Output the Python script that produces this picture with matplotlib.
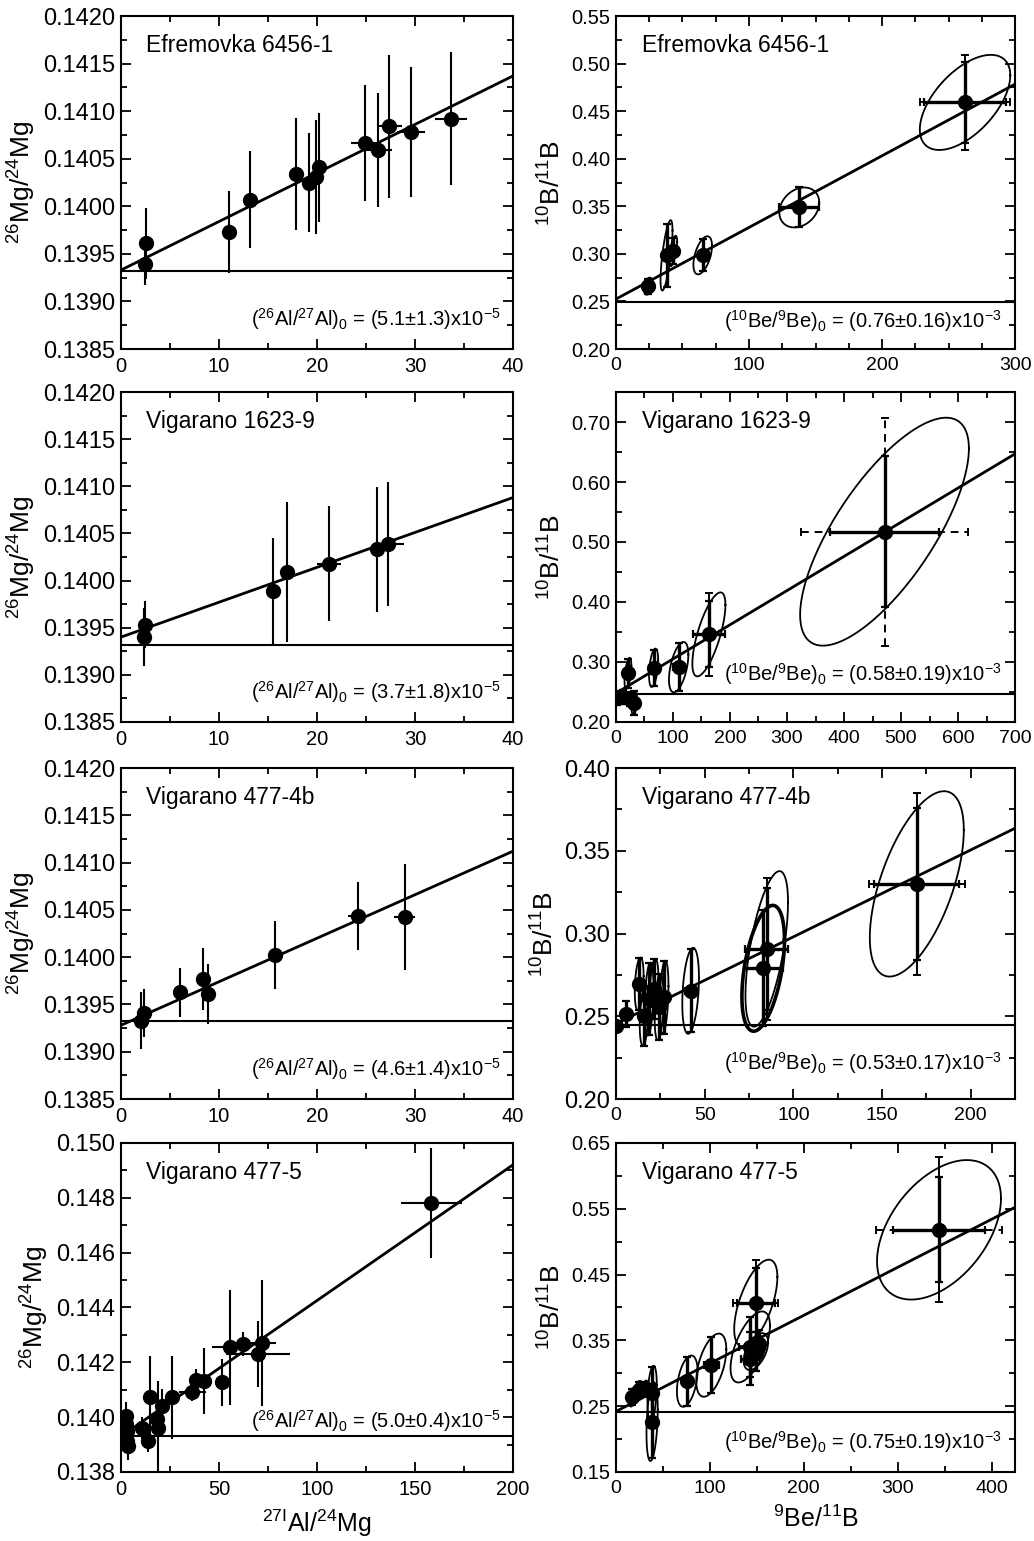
import matplotlib
matplotlib.use("Agg")
import matplotlib.pyplot as plt
import numpy as np
from matplotlib.ticker import MultipleLocator, FormatStrFormatter

plt.rcParams['font.family'] = ['Liberation Sans', 'DejaVu Sans']
plt.rcParams['mathtext.fontset'] = 'custom'
plt.rcParams['mathtext.rm'] = 'Liberation Sans'
plt.rcParams['mathtext.default'] = 'regular'

# ---- Al-Mg data (left column) ----
al1_x = [2.6, 2.5, 11.05, 13.2, 17.85, 19.2, 19.95, 20.2, 24.9, 26.25, 27.4, 29.6, 33.7]
al1_y = [0.13961, 0.13939, 0.13973, 0.14007, 0.14034, 0.14025, 0.14031, 0.14041,
         0.14067, 0.14059, 0.14084, 0.14078, 0.14092]
al1_xerr = [0.1, 0.1, 0.2, 0.2, 0.5, 0.5, 0.6, 0.6, 1.4, 1.4, 1.3, 1.4, 1.6]
al1_yerr = [0.00037, 0.00022, 0.00043, 0.00051, 0.00059, 0.00052, 0.0006, 0.00057,
            0.00061, 0.0006, 0.00075, 0.00068, 0.0007]

al2_x = [2.35, 2.5, 15.55, 16.95, 21.25, 26.1, 27.3]
al2_y = [0.13940, 0.13953, 0.13989, 0.14009, 0.14018, 0.14033, 0.14039]
al2_xerr = [0.1, 0.1, 0.2, 0.2, 1.2, 1.0, 1.6]
al2_yerr = [0.00031, 0.00025, 0.00056, 0.00074, 0.00061, 0.00066, 0.00066]

al3_x = [2.0, 2.35, 6.0, 8.4, 8.9, 15.7, 24.15, 28.95]
al3_y = [0.13933, 0.13941, 0.13963, 0.13977, 0.13961, 0.14002, 0.14044, 0.14042]
al3_xerr = [0.1, 0.1, 0.2, 0.2, 0.2, 0.3, 1.0, 1.1]
al3_yerr = [0.0003, 0.00025, 0.00026, 0.00033, 0.00032, 0.00036, 0.00036, 0.00056]

al4_x = [2.5, 2.5, 3.0, 3.0, 3.5, 10.5, 13.9, 14.8, 18.2, 19.0, 20.8, 26.2, 36.4, 38.1,
         42.5, 51.4, 55.6, 62.4, 70.0, 71.8, 158.3]
al4_y = [0.14005, 0.13976, 0.13950, 0.13913, 0.13895, 0.13962, 0.13913, 0.14072, 0.13994,
         0.13962, 0.14041, 0.14072, 0.14090, 0.14135, 0.14133, 0.14127, 0.14255, 0.14267,
         0.14230, 0.14269, 0.14782]
al4_xerr = [0.3, 0.3, 0.3, 0.3, 0.3, 0.8, 1.0, 1.0, 1.2, 1.2, 1.4, 1.6, 7.0, 2.0, 2.5, 3.0,
            9.0, 3.0, 16.5, 7.5, 15.5]
al4_yerr = [0.0005, 0.0004, 0.0004, 0.0004, 0.0005, 0.0004, 0.0004, 0.0015, 0.0006, 0.0017,
            0.0006, 0.0015, 0.0003, 0.0004, 0.0012, 0.00085, 0.0021, 0.00045, 0.0012, 0.0023,
            0.002]

al_names = ["Efremovka 6456-1", "Vigarano 1623-9", "Vigarano 477-4b", "Vigarano 477-5"]
al_slope = [5.1e-5, 3.7e-5, 4.6e-5, 4.95e-5]
al_icpt = [0.13933, 0.13940, 0.13928, 0.13930]
al_base = [0.13932, 0.13932, 0.13932, 0.13930]
al_text = ["(5.1±1.3)", "(3.7±1.8)", "(4.6±1.4)", "(5.0±0.4)"]

# ---- Be-B data (right column) ----
be1_x = [24.3, 38, 43, 65.2, 137.8, 262.4]
be1_y = [0.2661, 0.2985, 0.3031, 0.2985, 0.3488, 0.4592]
be1_xerr = [3, 2, 2, 3, 15, 31]
be1_yerr = [0.008, 0.033, 0.014, 0.017, 0.021, 0.043]
be1_esx = [3.5, 4.5, 3, 7, 15, 34]
be1_esy = [0.009, 0.037, 0.016, 0.020, 0.021, 0.050]
be1_rho = [0.3, 0.7, 0.6, 0.5, 0.25, 0.57]
be1_out_idx = [5]
be1_out_xerr = [34]
be1_out_yerr = [0.050]

be2_x = [2, 12, 25, 21, 32, 66, 110, 163, 471]
be2_y = [0.240, 0.242, 0.238, 0.281, 0.232, 0.2903, 0.2914, 0.346, 0.5172]
be2_xerr = [3, 4, 4, 5, 5, 6, 10, 28, 96]
be2_yerr = [0.012, 0.012, 0.012, 0.024, 0.02, 0.030, 0.040, 0.055, 0.126]
be2_esx = [3, 4, 4, 6, 5, 8, 17, 29, 148]
be2_esy = [0.012, 0.012, 0.012, 0.026, 0.02, 0.032, 0.042, 0.07, 0.19]
be2_rho = [0.3, 0.3, 0.3, 0.5, 0.3, 0.4, 0.5, 0.7, 0.73]
be2_out_idx = [7, 8]
be2_out_xerr = [28, 147]
be2_out_yerr = [0.069, 0.19]

be3_x = [0, 5.6, 13.1, 15.9, 18.7, 21.5, 24.3, 27.1, 42.1, 85, 83, 169.6]
be3_y = [0.2443, 0.2514, 0.2695, 0.2503, 0.2604, 0.2665, 0.2556, 0.2616, 0.2654, 0.2907,
         0.279, 0.330]
be3_xerr = [0, 2, 2, 2, 2, 2, 2, 2, 3, 12, 11, 24]
be3_yerr = [0.0, 0.008, 0.016, 0.018, 0.022, 0.018, 0.02, 0.022, 0.025, 0.037, 0.035, 0.046]
be3_esx = [0, 0, 2.5, 2.5, 2.5, 2.5, 2.5, 2.5, 4.7, 12, 12, 26.5]
be3_esy = [0, 0, 0.016, 0.018, 0.022, 0.018, 0.02, 0.022, 0.026, 0.047, 0.038, 0.056]
be3_rho = [0, 0, 0.3, 0.3, 0.3, 0.3, 0.3, 0.3, 0.3, 0.6, 0.45, 0.58]
be3_out_idx = [9, 11]
be3_out_xerr = [12, 27]
be3_out_yerr = [0.043, 0.055]

be4_x = [17.1, 24.2, 31.3, 38.5, 38.5, 75.9, 101.5, 148.9, 143, 143, 149, 152, 344]
be4_y = [0.2634, 0.2745, 0.277, 0.2695, 0.2266, 0.288, 0.3123, 0.4066, 0.340, 0.322,
         0.333, 0.345, 0.518]
be4_xerr = [3, 3, 3, 3, 3, 6, 8, 20, 12, 10, 8, 6, 49]
be4_yerr = [0.012, 0.012, 0.01, 0.04, 0.055, 0.037, 0.043, 0.053, 0.045, 0.04, 0.03, 0.02,
            0.08]
be4_esx = [4, 4, 3, 5, 6, 11, 16, 23, 21, 0, 13, 0, 66]
be4_esy = [0.014, 0.014, 0.012, 0.042, 0.06, 0.039, 0.048, 0.066, 0.054, 0, 0.028, 0, 0.106]
be4_rho = [0.3, 0.3, 0.3, 0.3, 0.3, 0.4, 0.5, 0.6, 0.6, 0, 0.5, 0, 0.45]
be4_out_idx = [7, 12]
be4_out_xerr = [24, 67]
be4_out_yerr = [0.066, 0.11]

be_slope = [0.753e-3, 0.57e-3, 0.525e-3, 0.73e-3]
be_icpt = [0.2525, 0.248, 0.2455, 0.242]
be_base = [0.2490, 0.2474, 0.2448, 0.2417]
be_text = ["(0.76±0.16)", "(0.58±0.19)", "(0.53±0.17)", "(0.75±0.19)"]

# axes rectangles (bottom, height) for the four rows
rows = [(0.7735, 0.2161), (0.5315, 0.2141), (0.2868, 0.2148), (0.0448, 0.2135)]

fig = plt.figure(figsize=(10.34, 15.41), dpi=100)


def style_axes(ax, xmaj, xmin, ymaj, ymin, yfmt, yfs, xfs, yoff=0.0):
    ax.xaxis.set_major_locator(MultipleLocator(xmaj))
    ax.xaxis.set_minor_locator(MultipleLocator(xmin))
    ax.yaxis.set_major_locator(MultipleLocator(ymaj, offset=yoff))
    ax.yaxis.set_minor_locator(MultipleLocator(ymin))
    ax.yaxis.set_major_formatter(FormatStrFormatter(yfmt))
    ax.tick_params(which='both', direction='in', top=True, right=True, width=1.3)
    ax.tick_params(which='major', length=7)
    ax.tick_params(which='minor', length=4)
    ax.tick_params(axis='y', labelsize=yfs, pad=4)
    ax.tick_params(axis='x', labelsize=xfs, pad=6)
    for s in ax.spines.values():
        s.set_linewidth(1.5)


def ellipse(ax, cx, cy, sx, sy, rho, lw=1.3):
    t = np.linspace(0, 2 * np.pi, 240)
    ex = cx + sx * np.cos(t)
    ey = cy + sy * (rho * np.cos(t) + np.sqrt(1 - rho ** 2) * np.sin(t))
    ax.plot(ex, ey, color='k', lw=lw, zorder=2)


al_sets = [(al1_x, al1_y, al1_xerr, al1_yerr), (al2_x, al2_y, al2_xerr, al2_yerr),
           (al3_x, al3_y, al3_xerr, al3_yerr), (al4_x, al4_y, al4_xerr, al4_yerr)]

for i, (x, y, xe, ye) in enumerate(al_sets):
    ax = fig.add_axes([0.117, rows[i][0], 0.379, rows[i][1]])
    if i < 3:
        xmax, ylim = 40, (0.1385, 0.1420)
        style_axes(ax, 10, 5, 0.0005, 0.00025, '%.4f', 17, 14.5)
        ann_y = 0.09
    else:
        xmax, ylim = 200, (0.138, 0.150)
        style_axes(ax, 50, 25, 0.002, 0.001, '%.3f', 17, 14.5)
        ann_y = 0.155
    ax.errorbar(x, y, xerr=xe, yerr=ye, fmt='o', color='k', ms=10, elinewidth=1.5,
                capsize=0, zorder=3)
    xx = np.array([0, xmax])
    ax.plot(xx, al_icpt[i] + al_slope[i] * xx, color='k', lw=2)
    ax.axhline(al_base[i], color='k', lw=1.5)
    ax.set_xlim(0, xmax)
    ax.set_ylim(*ylim)
    ax.text(0.065, 0.91, al_names[i], transform=ax.transAxes, fontsize=16.5, va='center')
    ax.text(0.97, ann_y, r"($^{26}$Al/$^{27}$Al)$_0$ = " + al_text[i] + r"x10$^{-5}$",
            transform=ax.transAxes, fontsize=14.5, ha='right', va='center')
    ax.set_ylabel(r"$^{26}$Mg/$^{24}$Mg", fontsize=19, labelpad=4)
    if i == 3:
        ax.set_xlabel(r"$^{27I}$Al/$^{24}$Mg", fontsize=18, labelpad=6)

be_sets = [(be1_x, be1_y, be1_xerr, be1_yerr, be1_esx, be1_esy, be1_rho,
            be1_out_idx, be1_out_xerr, be1_out_yerr),
           (be2_x, be2_y, be2_xerr, be2_yerr, be2_esx, be2_esy, be2_rho,
            be2_out_idx, be2_out_xerr, be2_out_yerr),
           (be3_x, be3_y, be3_xerr, be3_yerr, be3_esx, be3_esy, be3_rho,
            be3_out_idx, be3_out_xerr, be3_out_yerr),
           (be4_x, be4_y, be4_xerr, be4_yerr, be4_esx, be4_esy, be4_rho,
            be4_out_idx, be4_out_xerr, be4_out_yerr)]
be_opts = [dict(xmax=300, ylim=(0.20, 0.55), xt=(100, 25), yt=(0.05, 0.025), yoff=0.0,
                yfs=14.5, ann_y=0.085, xdash=[False], ydash=[False]),
           dict(xmax=700, ylim=(0.20, 0.75), xt=(100, 50), yt=(0.1, 0.05), yoff=0.0,
                yfs=14.5, ann_y=0.145, xdash=[False, True], ydash=[False, True]),
           dict(xmax=225, ylim=(0.20, 0.40), xt=(50, 25), yt=(0.05, 0.025), yoff=0.0,
                yfs=17, ann_y=0.11, xdash=[False, False], ydash=[False, False]),
           dict(xmax=425, ylim=(0.15, 0.65), xt=(100, 50), yt=(0.1, 0.05), yoff=0.05,
                yfs=14.5, ann_y=0.09, xdash=[False, True], ydash=[False, False])]
thick_ellipse = {2: [10]}

for i, (x, y, xe, ye, esx, esy, rho, oi, oxe, oye) in enumerate(be_sets):
    o = be_opts[i]
    ax = fig.add_axes([0.5957, rows[i][0], 0.386, rows[i][1]])
    style_axes(ax, o['xt'][0], o['xt'][1], o['yt'][0], o['yt'][1], '%.2f', o['yfs'], 14,
               o['yoff'])
    for k in range(len(x)):
        if esx[k] > 0:
            lw = 2.6 if k in thick_ellipse.get(i, []) else 1.3
            ellipse(ax, x[k], y[k], esx[k], esy[k], rho[k], lw)
    for j, k in enumerate(oi):
        eb = ax.errorbar([x[k]], [y[k]], xerr=[oxe[j]], fmt='none', ecolor='k',
                         elinewidth=1.4, capsize=3, capthick=1.4, zorder=2)
        if o['xdash'][j]:
            eb[2][0].set_linestyle((0, (4, 3)))
        eb = ax.errorbar([x[k]], [y[k]], yerr=[oye[j]], fmt='none', ecolor='k',
                         elinewidth=1.4, capsize=3, capthick=1.4, zorder=2)
        if o['ydash'][j]:
            eb[2][0].set_linestyle((0, (4, 3)))
    ax.errorbar(x, y, xerr=xe, yerr=ye, fmt='o', color='k', ms=10, elinewidth=2.4,
                capsize=3, capthick=1.6, zorder=3)
    xx = np.array([0, o['xmax']])
    ax.plot(xx, be_icpt[i] + be_slope[i] * xx, color='k', lw=2)
    ax.axhline(be_base[i], color='k', lw=1.5)
    ax.set_xlim(0, o['xmax'])
    ax.set_ylim(*o['ylim'])
    ax.text(0.065, 0.91, al_names[i], transform=ax.transAxes, fontsize=16.5, va='center')
    ax.text(0.965, o['ann_y'], r"($^{10}$Be/$^{9}$Be)$_0$ = " + be_text[i] + r"x10$^{-3}$",
            transform=ax.transAxes, fontsize=14.5, ha='right', va='center')
    ax.set_ylabel(r"$^{10}$B/$^{11}$B", fontsize=19, labelpad=4)
    if i == 3:
        ax.set_xlabel(r"$^{9}$Be/$^{11}$B", fontsize=18, labelpad=6)

fig.savefig("out.png", dpi=100)
